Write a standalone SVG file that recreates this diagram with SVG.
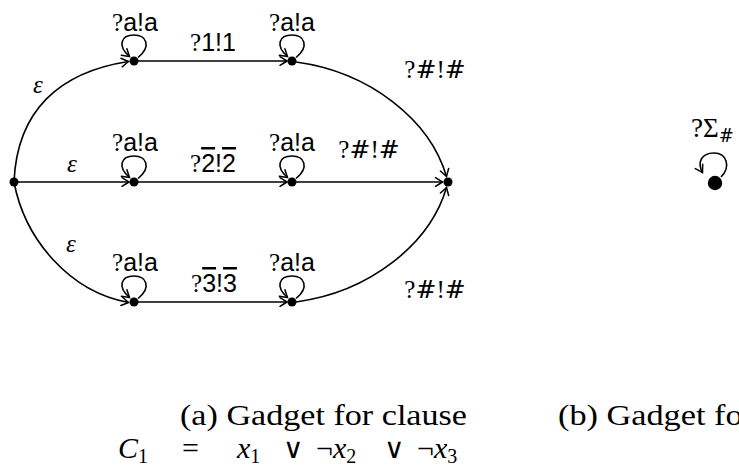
<svg xmlns="http://www.w3.org/2000/svg" width="739" height="469" viewBox="0 0 739 469">
<style>
.e{fill:none;stroke:#000;stroke-width:1.6}
.a{marker-end:url(#arr)}
.n{fill:#000}
.lab{font-family:"Liberation Sans",Arial,sans-serif;font-size:25px;fill:#000;text-anchor:middle}
.q{font-family:"Liberation Serif","Times New Roman",serif}
.h{font-family:"DejaVu Serif",serif}
.ol{text-decoration:overline}
.eps{font-family:"Liberation Serif","Times New Roman",serif;font-style:italic;font-size:25px;fill:#000;text-anchor:middle}
.cap{font-family:"Liberation Serif","Times New Roman",serif;font-size:30px;fill:#000}
.it{font-style:italic}
.or{font-family:"DejaVu Sans ExtraLight","DejaVu Sans",sans-serif;font-weight:200;font-size:28px}
</style>
<defs>
<marker id="arr" markerUnits="userSpaceOnUse" viewBox="-9 -6 11 12" refX="0" refY="0" markerWidth="11" markerHeight="12" orient="auto" overflow="visible">
<path d="M-7,-4.3 Q-2.2,-1.3 0,0 Q-2.2,1.3 -7,4.3" fill="none" stroke="#000" stroke-width="1.5" stroke-linecap="round"/>
</marker>
</defs>

<g id="connectors">
<path class="e a" d="M14,182 C17,110 60,72 128.5,61.5"/>
<path class="e a" d="M18,182 L129,182"/>
<path class="e a" d="M14,182 C25,240 70,292 128.5,302.5"/>
<path class="e a" d="M138,61 L287,61"/>
<path class="e a" d="M138,182 L287,182"/>
<path class="e a" d="M138,302 L287,302"/>
<path class="e a" d="M296,62 C370,72 430,120 446.5,176.5"/>
<path class="e a" d="M296,182 L442.5,182"/>
<path class="e a" d="M296,302 C370,292 430,244 446.5,187.5"/>
<path class="e a" transform="translate(134,61)" d="M4,-3.5 C18,-15 12,-26 0,-26 C-13,-26 -17,-15 -4.5,-4.5"/>
<path class="e a" transform="translate(292,61)" d="M4,-3.5 C18,-15 12,-26 0,-26 C-13,-26 -17,-15 -4.5,-4.5"/>
<path class="e a" transform="translate(134,182)" d="M4,-3.5 C18,-15 12,-26 0,-26 C-13,-26 -17,-15 -4.5,-4.5"/>
<path class="e a" transform="translate(292,182)" d="M4,-3.5 C18,-15 12,-26 0,-26 C-13,-26 -17,-15 -4.5,-4.5"/>
<path class="e a" transform="translate(134,302)" d="M4,-3.5 C18,-15 12,-26 0,-26 C-13,-26 -17,-15 -4.5,-4.5"/>
<path class="e a" transform="translate(292,302)" d="M4,-3.5 C18,-15 12,-26 0,-26 C-13,-26 -17,-15 -4.5,-4.5"/>
<path class="e a" transform="translate(715,183)" d="M6,-6 C16,-16 12,-30 -1,-30 C-14,-30 -18,-20 -12.5,-10.5"/>

<text class="eps" x="38" y="93">ε</text>
<text class="eps" x="72" y="172">ε</text>
<text class="eps" x="71" y="252">ε</text>

<text class="lab" x="135" y="31"><tspan class="q">?</tspan>a!a</text>
<text class="lab" x="292" y="31"><tspan class="q">?</tspan>a!a</text>
<text class="lab" x="135" y="151"><tspan class="q">?</tspan>a!a</text>
<text class="lab" x="292" y="151"><tspan class="q">?</tspan>a!a</text>
<text class="lab" x="135" y="271"><tspan class="q">?</tspan>a!a</text>
<text class="lab" x="292" y="271"><tspan class="q">?</tspan>a!a</text>

<text class="lab" x="213" y="51"><tspan class="q">?</tspan>1!1</text>
<text class="lab" x="213" y="172"><tspan class="q">?</tspan><tspan class="ol">2</tspan>!<tspan class="ol">2</tspan></text>
<text class="lab" x="214" y="292"><tspan class="q">?</tspan><tspan class="ol">3</tspan>!<tspan class="ol">3</tspan></text>

<text class="lab q" x="435" y="78" font-size="26"><tspan>?</tspan><tspan class="h">#</tspan><tspan>!</tspan><tspan class="h">#</tspan></text>
<text class="lab q" x="369" y="158" font-size="26"><tspan>?</tspan><tspan class="h">#</tspan><tspan>!</tspan><tspan class="h">#</tspan></text>
<text class="lab q" x="435" y="298" font-size="26"><tspan>?</tspan><tspan class="h">#</tspan><tspan>!</tspan><tspan class="h">#</tspan></text>

<text class="q" x="691" y="137" font-size="27" fill="#000">?Σ<tspan class="h" font-size="18" dy="5">#</tspan></text>
</g>

<g id="n0"><circle class="n" cx="14" cy="182" r="4.5"/></g>
<g id="n1"><circle class="n" cx="134" cy="61" r="4.5"/></g>
<g id="n2"><circle class="n" cx="292" cy="61" r="4.5"/></g>
<g id="n3"><circle class="n" cx="134" cy="182" r="4.5"/></g>
<g id="n4"><circle class="n" cx="292" cy="182" r="4.5"/></g>
<g id="n5"><circle class="n" cx="134" cy="302" r="4.5"/></g>
<g id="n6"><circle class="n" cx="292" cy="302" r="4.5"/></g>
<g id="n7"><circle class="n" cx="448" cy="182" r="4.5"/></g>
<g id="n8"><circle class="n" cx="715" cy="183" r="7.2"/></g>

<g id="captions">
<text class="cap" x="180" y="425" textLength="287" lengthAdjust="spacingAndGlyphs">(a) Gadget for clause</text>
<text class="cap" y="458"><tspan class="it" x="118">C</tspan><tspan font-size="20" dy="5">1</tspan><tspan x="182" dy="-5">=</tspan><tspan class="it" x="237">x</tspan><tspan font-size="20" dy="5">1</tspan><tspan class="or" x="283" dy="-5">∨</tspan><tspan x="316">¬</tspan><tspan class="it">x</tspan><tspan font-size="20" dy="5">2</tspan><tspan class="or" x="384" dy="-5">∨</tspan><tspan x="417">¬</tspan><tspan class="it">x</tspan><tspan font-size="20" dy="5">3</tspan></text>
<text class="cap" x="558" y="425" textLength="196" lengthAdjust="spacingAndGlyphs">(b) Gadget for</text>
</g>
</svg>
